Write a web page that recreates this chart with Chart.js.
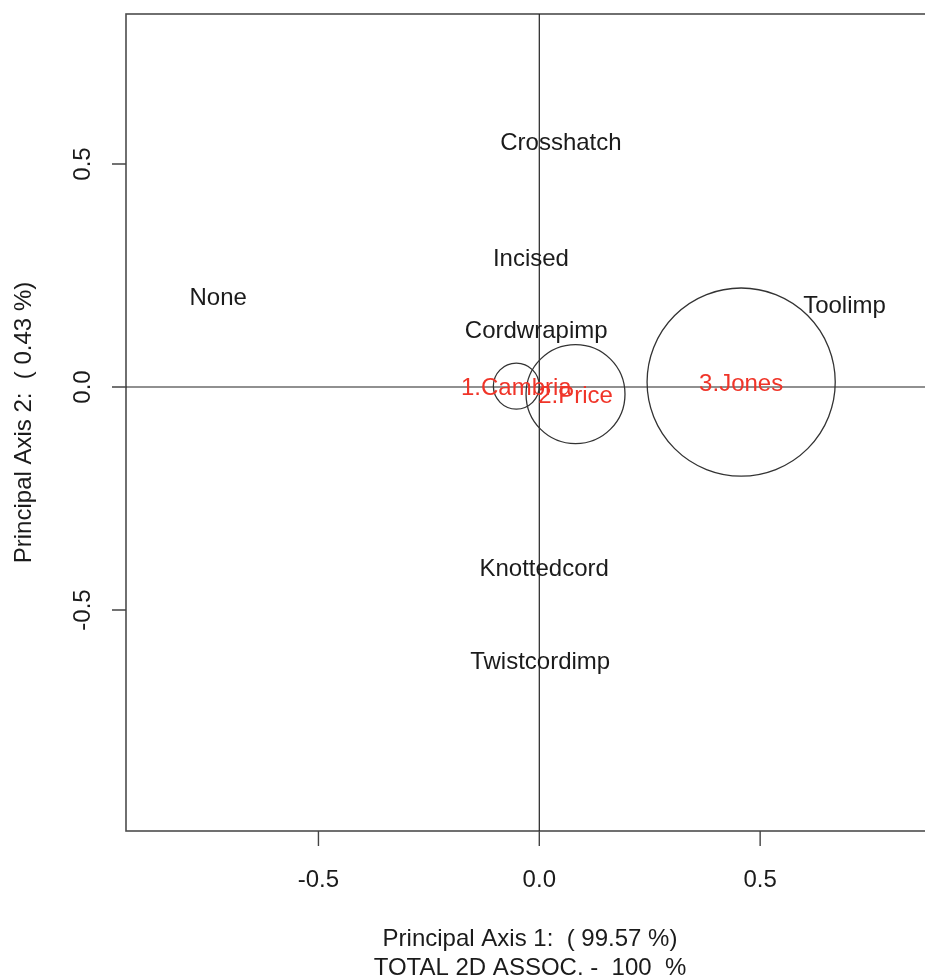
<!DOCTYPE html>
<html>
<head>
<meta charset="utf-8">
<title>Correspondence analysis: Principal Axes 1 and 2</title>
<script src="https://cdn.jsdelivr.net/npm/chart.js@4/dist/chart.umd.min.js"></script>
<style>
  html, body { margin: 0; padding: 0; background: #ffffff; overflow: hidden; }
  #wrap { width: 925px; height: 978px; overflow: hidden; position: relative; }
  #c { display: block; }
</style>
</head>
<body>
<div id="wrap"><canvas id="c" width="945" height="978"></canvas></div>
<script>
// Row points (sites): coordinates on principal axes 1 and 2, circle radius in axis-1 units
const rowLabels = ['1.Cambria', '2.Price', '3.Jones'];
const rowAxis1 = [-0.052, 0.082, 0.457];
const rowAxis2 = [0.002, -0.016, 0.011];
const rowRadius = [0.052, 0.112, 0.213];

// Column points (decoration types)
const colLabels = ['None', 'Crosshatch', 'Incised', 'Cordwrapimp', 'Toolimp', 'Knottedcord', 'Twistcordimp'];
const colAxis1 = [-0.727, 0.049, -0.019, -0.007, 0.691, 0.011, 0.002];
const colAxis2 = [0.202, 0.550, 0.291, 0.130, 0.185, -0.405, -0.612];

// Axis ticks and titles
const xTickValues = [-0.5, 0.0, 0.5];
const xTickLabels = ['-0.5', '0.0', '0.5'];
const yTickValues = [-0.5, 0.0, 0.5];
const yTickLabels = ['-0.5', '0.0', '0.5'];
const xTitleLines = ['Principal Axis 1:  ( 99.57 %)', 'TOTAL 2D ASSOC. -  100  %'];
const yTitle = 'Principal Axis 2:  ( 0.43 %)';

const FONT_SIZE = 24;
const FONT = FONT_SIZE + 'px "Liberation Sans", Arial, Helvetica, sans-serif';
const TEXT_COLOR = '#1b1b1b';
const ROW_COLOR = 'rgb(240, 52, 40)';
const CAP_HALF = 0.358 * FONT_SIZE; // half the cap height, to centre text on a point

const rowPoints = rowAxis1.map((x, i) => ({ x: x, y: rowAxis2[i], r: 0 }));
const colPoints = colAxis1.map((x, i) => ({ x: x, y: colAxis2[i] }));

function centredText(ctx, text, x, y) {
  ctx.textAlign = 'center';
  ctx.textBaseline = 'alphabetic';
  ctx.fillText(text, x, y + CAP_HALF);
}

// Frame, origin lines, tick marks, tick labels and axis titles
const axesPlugin = {
  id: 'caAxes',
  beforeDatasetsDraw(chart) {
    const { ctx, chartArea: a, scales: { x, y } } = chart;
    ctx.save();
    // plot frame
    ctx.strokeStyle = '#4d4d4d';
    ctx.lineWidth = 1.6;
    ctx.strokeRect(a.left, a.top, a.right - a.left, a.bottom - a.top);
    // lines through the origin
    ctx.strokeStyle = '#222222';
    ctx.lineWidth = 1.2;
    const x0 = x.getPixelForValue(0);
    const y0 = y.getPixelForValue(0);
    ctx.beginPath();
    ctx.moveTo(x0, a.top); ctx.lineTo(x0, a.bottom);
    ctx.moveTo(a.left, y0); ctx.lineTo(a.right, y0);
    ctx.stroke();
    // tick marks
    ctx.strokeStyle = '#444444';
    ctx.lineWidth = 1.4;
    ctx.beginPath();
    xTickValues.forEach(v => {
      const px = x.getPixelForValue(v);
      ctx.moveTo(px, a.bottom); ctx.lineTo(px, a.bottom + 15);
    });
    yTickValues.forEach(v => {
      const py = y.getPixelForValue(v);
      ctx.moveTo(a.left - 14, py); ctx.lineTo(a.left, py);
    });
    ctx.stroke();
    // tick labels
    ctx.fillStyle = TEXT_COLOR;
    ctx.font = FONT;
    ctx.textAlign = 'center';
    ctx.textBaseline = 'alphabetic';
    xTickValues.forEach((v, i) => {
      ctx.fillText(xTickLabels[i], x.getPixelForValue(v), a.bottom + 56);
    });
    yTickValues.forEach((v, i) => {
      ctx.save();
      ctx.translate(a.left - 36, y.getPixelForValue(v));
      ctx.rotate(-Math.PI / 2);
      ctx.fillText(yTickLabels[i], 0, 0);
      ctx.restore();
    });
    // axis titles
    const midX = (a.left + a.right) / 2;
    ctx.fillText(xTitleLines[0], midX, a.bottom + 115);
    ctx.fillText(xTitleLines[1], midX, a.bottom + 144);
    ctx.save();
    ctx.translate(a.left - 95, (a.top + a.bottom) / 2);
    ctx.rotate(-Math.PI / 2);
    ctx.fillText(yTitle, 0, 0);
    ctx.restore();
    ctx.restore();
  },
  afterDatasetsDraw(chart) {
    const { ctx } = chart;
    ctx.save();
    ctx.font = FONT;
    // column labels
    ctx.fillStyle = TEXT_COLOR;
    chart.getDatasetMeta(1).data.forEach((el, i) => centredText(ctx, colLabels[i], el.x, el.y));
    // row labels over their circles
    ctx.fillStyle = ROW_COLOR;
    chart.getDatasetMeta(0).data.forEach((el, i) => centredText(ctx, rowLabels[i], el.x, el.y));
    ctx.restore();
  }
};

const chart = new Chart(document.getElementById('c'), {
  type: 'bubble',
  data: {
    datasets: [
      {
        label: 'Sites',
        data: rowPoints,
        backgroundColor: 'rgba(0,0,0,0)',
        borderColor: '#333333',
        borderWidth: 1.3,
        hoverRadius: 0
      },
      {
        type: 'scatter',
        label: 'Decoration',
        data: colPoints,
        pointRadius: 0,
        pointHoverRadius: 0,
        showLine: false
      }
    ]
  },
  options: {
    responsive: false,
    animation: false,
    events: [],
    layout: { autoPadding: false, padding: { left: 126, top: 14, right: 11, bottom: 147 } },
    plugins: { legend: { display: false }, tooltip: { enabled: false } },
    scales: {
      x: { type: 'linear', display: false, min: -0.9357, max: 0.8936 },
      y: { type: 'linear', display: false, min: -0.9955, max: 0.8363 }
    }
  },
  plugins: [axesPlugin]
});

// Circle radii are in axis-1 units: convert them to pixels through the x scale
const xs = chart.scales.x;
rowPoints.forEach((p, i) => {
  p.r = Math.abs(xs.getPixelForValue(rowRadius[i]) - xs.getPixelForValue(0));
});
chart.update();
</script>
</body>
</html>
